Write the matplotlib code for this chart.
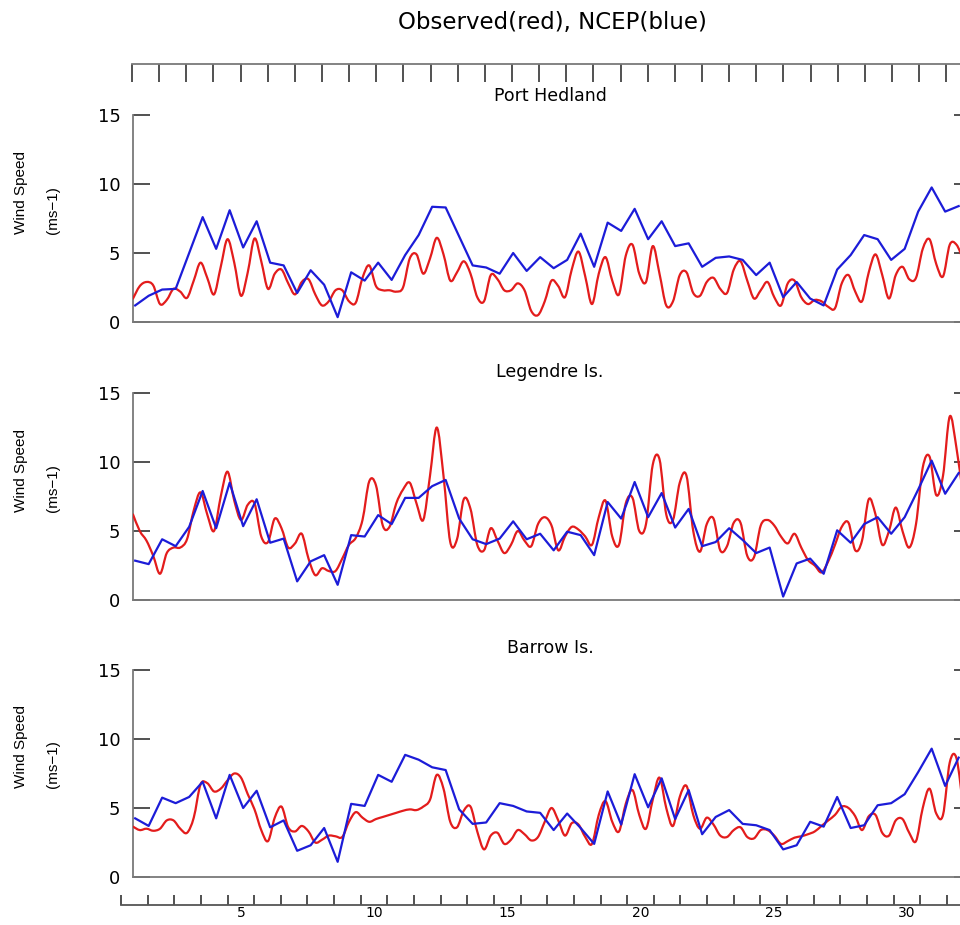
import numpy as np
import matplotlib
matplotlib.use("Agg")
import matplotlib.pyplot as plt
from matplotlib.path import Path
from matplotlib.patches import PathPatch

# ---------------------------------------------------------------------------
# Data: wind speed (m/s), January, time in days since 00h on day 1
# NCEP values every 12 h starting at NCEP_T0; observations every 6 h
# ---------------------------------------------------------------------------
NCEP_T0, NCEP_DT = 0.08, 0.5
OBS_T0, OBS_DT = 0.0, 0.25

stations = ["Port Hedland", "Legendre Is.", "Barrow Is."]

port_hedland_ncep = [
    1.2, 1.9, 2.35, 2.4, 5.0, 7.6, 5.3, 8.1, 5.4, 7.3, 4.3, 4.1, 2.1, 3.75, 2.7,
    0.35, 3.6, 3.0, 4.3, 3.05, 4.85, 6.3, 8.35, 8.3, 6.2, 4.1, 3.95, 3.5, 5.0, 3.7,
    4.7, 3.9, 4.5, 6.4, 4.0, 7.2, 6.6, 8.2, 6.0, 7.3, 5.5, 5.7, 4.0, 4.65, 4.75,
    4.5, 3.4, 4.3, 1.8, 2.9, 1.7, 1.2, 3.8, 4.85, 6.3, 6.0, 4.5, 5.3, 8.0, 9.75,
    8.0, 8.4]
port_hedland_obs = [
    1.7, 2.6, 2.9, 2.65, 1.3, 1.6, 2.4, 2.2, 1.75, 3.0,
    4.3, 3.2, 2.0, 4.0, 6.0, 4.3, 1.9, 3.6, 6.05, 4.4,
    2.4, 3.5, 3.8, 2.8, 2.0, 2.9, 3.1, 2.0, 1.2, 1.5,
    2.3, 2.3, 1.5, 1.4, 3.2, 4.1, 2.6, 2.3, 2.3, 2.2,
    2.5, 4.6, 4.9, 3.5, 4.6, 6.1, 4.9, 3.0, 3.6, 4.4,
    3.5, 1.8, 1.5, 3.4, 3.1, 2.3, 2.3, 2.8, 2.3, 0.8,
    0.5, 1.5, 3.0, 2.6, 1.8, 3.8, 5.1, 3.3, 1.3, 3.5,
    4.7, 3.0, 2.0, 4.8, 5.6, 3.5, 2.9, 5.5, 3.5, 1.2,
    1.5, 3.4, 3.6, 2.1, 1.9, 2.9, 3.2, 2.4, 2.1, 3.8,
    4.4, 3.0, 1.7, 2.3, 2.9, 1.8, 1.2, 2.8, 3.0, 1.8,
    1.3, 1.6, 1.5, 1.1, 1.0, 2.8, 3.4, 2.2, 1.5, 3.6,
    4.9, 3.4, 1.7, 3.4, 4.0, 3.1, 3.2, 5.3, 6.0, 4.2,
    3.3, 5.6, 5.6, 4.5]

legendre_ncep = [
    2.85, 2.6, 4.4, 3.9, 5.3, 7.9, 5.2, 8.5, 5.35, 7.3, 4.15, 4.45, 1.35, 2.8, 3.25,
    1.1, 4.7, 4.6, 6.15, 5.5, 7.4, 7.4, 8.25, 8.7, 5.9, 4.4, 4.05, 4.45, 5.7, 4.4,
    4.8, 3.6, 4.95, 4.7, 3.25, 7.1, 5.9, 8.55, 6.0, 7.75, 5.25, 6.6, 3.9, 4.2, 5.2,
    4.35, 3.4, 3.8, 0.25, 2.65, 3.0, 1.9, 5.05, 4.15, 5.5, 6.0, 4.8, 6.0, 8.0, 10.1,
    7.7, 9.2]
legendre_obs = [
    6.2, 5.0, 4.3, 3.2, 1.9, 3.4, 3.8, 3.8, 4.4, 6.5,
    7.8, 6.2, 5.0, 7.5, 9.3, 7.2, 5.8, 6.9, 7.0, 4.6,
    4.2, 5.9, 5.2, 3.8, 4.1, 4.8, 3.0, 1.8, 2.3, 2.1,
    2.1, 3.0, 4.0, 4.5, 5.8, 8.6, 8.3, 5.4, 5.3, 7.0,
    8.0, 8.5, 7.0, 5.8, 9.0, 12.5, 9.0, 4.2, 4.4, 7.3,
    6.6, 4.0, 3.6, 5.2, 4.3, 3.4, 4.0, 5.0, 4.3, 3.9,
    5.5, 6.0, 5.4, 3.6, 4.6, 5.3, 5.1, 4.6, 4.0, 6.0,
    7.2, 4.6, 4.0, 7.0, 7.4, 5.0, 5.5, 9.8, 10.2, 6.2,
    5.8, 8.5, 9.0, 5.0, 3.5, 5.5, 5.9, 3.6, 3.9, 5.6,
    5.6, 3.2, 3.1, 5.4, 5.8, 5.4, 4.6, 4.1, 4.8, 3.8,
    2.9, 2.5, 2.0, 2.8, 4.0, 5.3, 5.6, 3.6, 4.3, 7.3,
    6.2, 4.0, 5.0, 6.7, 5.0, 3.8, 5.5, 9.6, 10.4, 7.6,
    9.0, 13.3, 11.0, 7.5]

barrow_ncep = [
    4.25, 3.7, 5.75, 5.35, 5.8, 6.9, 4.25, 7.4, 5.0, 6.25, 3.6, 4.1, 1.9, 2.3, 3.55,
    1.1, 5.3, 5.15, 7.4, 6.9, 8.85, 8.5, 7.95, 7.75, 4.9, 3.85, 3.95, 5.35, 5.15, 4.75,
    4.65, 3.4, 4.6, 3.55, 2.4, 6.2, 3.8, 7.45, 5.05, 7.15, 4.2, 6.3, 3.1, 4.35, 4.85,
    3.85, 3.75, 3.4, 2.0, 2.3, 4.0, 3.65, 5.8, 3.55, 3.75, 5.2, 5.35, 6.0, 7.6, 9.3,
    6.6, 8.65]
barrow_obs = [
    3.65, 3.4, 3.5, 3.35, 3.5, 4.1, 4.1, 3.5, 3.2, 4.3,
    6.7, 6.8, 6.2, 6.4, 7.0, 7.5, 7.2, 6.0, 4.9, 3.4,
    2.6, 4.3, 5.1, 3.6, 3.3, 3.7, 3.3, 2.5, 2.7, 3.0,
    2.95, 2.9, 4.0, 4.7, 4.3, 4.0, 4.2, 4.35, 4.5, 4.65,
    4.8, 4.9, 4.85, 5.1, 5.6, 7.4, 6.4, 4.0, 3.6, 4.8,
    5.1, 3.3, 2.0, 3.0, 3.2, 2.4, 2.7, 3.4, 3.1, 2.65,
    2.9, 4.0, 5.0, 4.1, 3.0, 3.9, 3.8, 2.9, 2.4, 4.5,
    5.5, 4.0, 3.3, 5.3, 6.3, 4.5, 3.5, 5.6, 7.2, 5.0,
    3.7, 5.8, 6.6, 4.5, 3.5, 4.3, 3.8, 3.0, 2.9, 3.4,
    3.6, 2.9, 2.8, 3.4, 3.4, 3.0, 2.4, 2.6, 2.85, 2.95,
    3.1, 3.3, 3.7, 4.1, 4.5, 5.1, 5.0, 4.4, 3.4, 4.4,
    4.5, 3.2, 3.0, 4.1, 4.2, 3.2, 2.6, 5.0, 6.4, 4.6,
    4.5, 8.3, 8.6, 5.0]

ncep_series = [port_hedland_ncep, legendre_ncep, barrow_ncep]
obs_series = [port_hedland_obs, legendre_obs, barrow_obs]

y_ticks = [0, 5, 10, 15]
day_labels = [5, 10, 15, 20, 25, 30]

OBS_COLOR = "#e31c1c"
NCEP_COLOR = "#1c1cd8"
SPINE_COLOR = "#7a7a7a"

# ---------------------------------------------------------------------------
W, H = 960, 925
fig = plt.figure(figsize=(W / 100, H / 100), dpi=100)


def fx(px):
    return px / W


def fy(py):
    return 1 - py / H


def smooth_path(x, y):
    """Cubic (Catmull-Rom) Bezier path through the given points."""
    P = np.column_stack([x, y])
    Q = np.vstack([P[0], P, P[-1]])
    verts = [P[0]]
    codes = [Path.MOVETO]
    for i in range(len(P) - 1):
        p0, p1, p2, p3 = Q[i], Q[i + 1], Q[i + 2], Q[i + 3]
        verts += [p1 + (p2 - p0) / 6.0, p2 - (p3 - p1) / 6.0, p2]
        codes += [Path.CURVE4] * 3
    return Path(verts, codes)


PX_PER_DAY = 27.0
panel_left, panel_right = 133, 960
panel_rows = [(115, 322), (393, 600), (670, 877)]
title_rows = [96, 372, 648]

for i, (top, bot) in enumerate(panel_rows):
    ax = fig.add_axes([fx(panel_left), fy(bot), fx(panel_right - panel_left),
                       (bot - top) / H])
    ax.set_xlim(0, (panel_right - panel_left) / PX_PER_DAY)
    ax.set_ylim(0, 15)

    obs = np.asarray(obs_series[i], dtype=float)
    t_obs = OBS_T0 + OBS_DT * np.arange(len(obs))
    ax.add_patch(PathPatch(smooth_path(t_obs, obs), facecolor="none",
                           edgecolor=OBS_COLOR, lw=1.6, joinstyle="round",
                           capstyle="round", zorder=3))

    ncep = np.asarray(ncep_series[i], dtype=float)
    t_ncep = NCEP_T0 + NCEP_DT * np.arange(len(ncep))
    ax.plot(t_ncep, ncep, color=NCEP_COLOR, lw=1.6, solid_joinstyle="round",
            zorder=4)

    for side in ("top", "right"):
        ax.spines[side].set_visible(False)
    for side in ("left", "bottom"):
        ax.spines[side].set_color(SPINE_COLOR)
        ax.spines[side].set_linewidth(1.3)
    ax.set_xticks([])
    ax.set_yticks(y_ticks)
    ax.tick_params(axis="y", direction="in", length=12, width=1.2,
                   color="#333333", labelsize=13, pad=9)
    for lbl in ax.get_yticklabels():
        lbl.set_family("DejaVu Sans")

    # short inward ticks on the right-hand edge
    sec = ax.secondary_yaxis("right")
    sec.set_yticks(y_ticks)
    sec.tick_params(direction="in", length=4, width=1.2, color="#333333",
                    labelright=False)
    for sp in sec.spines.values():
        sp.set_visible(False)

    fig.text(fx(550), fy(title_rows[i]), stations[i], ha="center", va="center",
             fontsize=12.5, family="DejaVu Sans")
    mid = (top + bot) / 2 + 15
    fig.text(fx(21), fy(mid), "Wind Speed", rotation=90, ha="center",
             va="bottom", fontsize=11, family="Liberation Sans")
    fig.text(fx(53), fy(mid), "(ms\u22121)", rotation=90, ha="center",
             va="bottom", fontsize=11, family="Liberation Sans")

# day-boundary scale along the top
top_ax = fig.add_axes([fx(132), fy(64), fx(960 - 132), 0.0001])
top_ax.set_xlim(0, (960 - 132) / 27.14)
top_ax.set_ylim(0, 1)
for side in ("left", "right", "bottom"):
    top_ax.spines[side].set_visible(False)
top_ax.spines["top"].set_color(SPINE_COLOR)
top_ax.spines["top"].set_linewidth(1.3)
top_ax.set_yticks([])
top_ax.set_xticks(np.arange(0, 31))
top_ax.tick_params(axis="x", top=True, bottom=False, labeltop=False,
                   labelbottom=False, direction="in", length=13, width=1.2,
                   color="#333333")

# day-of-month axis along the bottom
bot_ax = fig.add_axes([fx(121), fy(905), fx(960 - 121), 0.0001])
bot_ax.set_xlim(0, (960 - 121) / 26.64)
bot_ax.set_ylim(0, 1)
for side in ("left", "right", "top"):
    bot_ax.spines[side].set_visible(False)
bot_ax.spines["bottom"].set_color("#555555")
bot_ax.spines["bottom"].set_linewidth(1.3)
bot_ax.set_yticks([])
bot_ax.set_xticks(np.arange(0, 32))
bot_ax.set_xticklabels([])
bot_ax.set_xticks([d - 0.5 for d in day_labels], minor=True)
bot_ax.set_xticklabels([str(d) for d in day_labels], minor=True,
                       family="DejaVu Sans", fontsize=10)
bot_ax.tick_params(axis="x", which="major", direction="in", length=7,
                   width=1.2, color="#333333")
bot_ax.tick_params(axis="x", which="minor", length=0, pad=0.5)

fig.text(fx(552), fy(22), "Observed(red), NCEP(blue)", ha="center",
         va="center", fontsize=16.5, family="DejaVu Sans")

fig.savefig("out.png", dpi=100)
